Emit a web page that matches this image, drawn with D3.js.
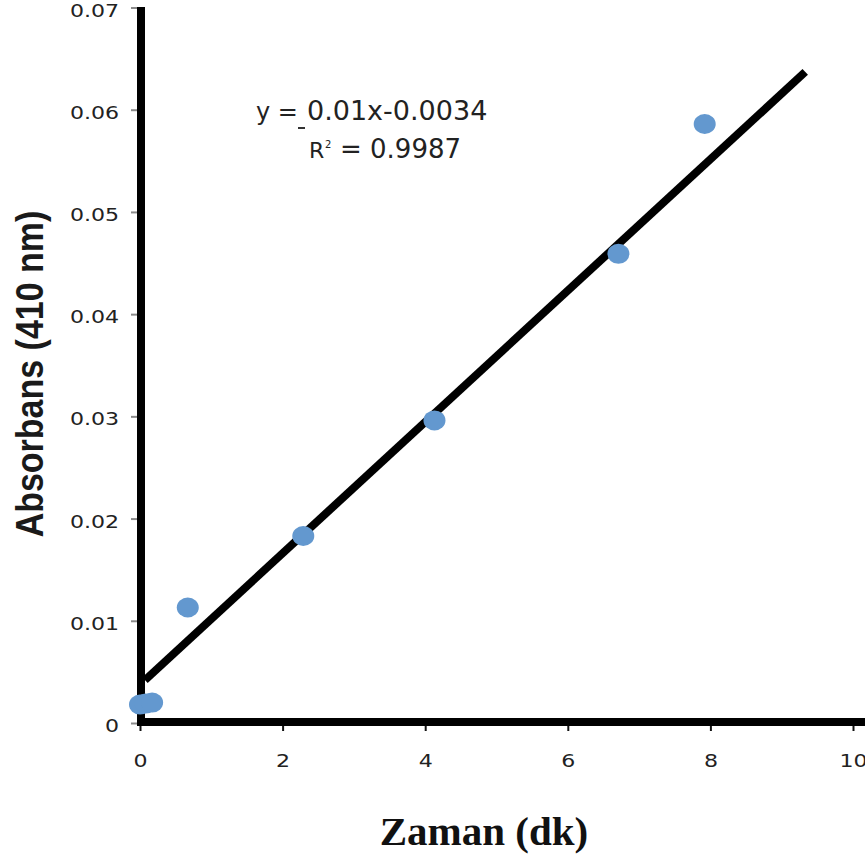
<!DOCTYPE html>
<html>
<head>
<meta charset="utf-8"/>
<script src="https://d3js.org/d3.v7.min.js"></script>
<style>
  body { margin: 0; background: #fff; }
  svg { display: block; }
</style>
</head>
<body>
<script>
// measured points (time in min, absorbance at 410 nm)
var timeVals = [0, 0.08, 0.17, 0.67, 2.29, 4.13, 6.71, 7.92];
var absVals  = [0.0018, 0.0019, 0.002, 0.0113, 0.0183, 0.0296, 0.0459, 0.0586];

// trend line end points as drawn
var trendX = [0.07, 9.33];
var trendY = [0.0042, 0.0637];

var xTicks = [0, 2, 4, 6, 8, 10];
var xTickLabels = ["0", "2", "4", "6", "8", "10"];
var yTicks = [0, 0.01, 0.02, 0.03, 0.04, 0.05, 0.06, 0.07];
var yTickLabels = ["0", "0.01", "0.02", "0.03", "0.04", "0.05", "0.06", "0.07"];

var width = 865, height = 861;
var dotColor = "#6398cf";

var svg = d3.select("body").append("svg")
    .attr("width", width)
    .attr("height", height);

var x = d3.scaleLinear().domain([0, 10]).range([140, 853]);
var y = d3.scaleLinear().domain([0, 0.07]).range([723, 7.5]);

// y axis ticks + labels
var yAxis = svg.append("g")
    .attr("transform", "translate(137,0)")
    .call(d3.axisLeft(y).tickValues(yTicks)
        .tickFormat(function(d, i) { return yTickLabels[i]; })
        .tickSize(6));
yAxis.select(".domain").remove();
yAxis.selectAll(".tick line").attr("stroke", "#8a8a8a").attr("stroke-width", 2);
yAxis.selectAll(".tick text")
    .attr("x", -13.8)
    .attr("dy", "0.5em")
    .attr("transform", "scale(1.3,1)")
    .attr("fill", "#222")
    .style("font-family", "DejaVu Sans")
    .style("font-size", "17px");

// x axis ticks + labels
var xAxis = svg.append("g")
    .attr("transform", "translate(0,726)")
    .call(d3.axisBottom(x).tickValues(xTicks)
        .tickFormat(function(d, i) { return xTickLabels[i]; })
        .tickSize(5).tickPadding(24));
xAxis.select(".domain").remove();
xAxis.selectAll(".tick line").attr("stroke", "#111").attr("stroke-width", 2);
xAxis.selectAll(".tick text")
    .attr("transform", "scale(1.3,1)")
    .attr("fill", "#222")
    .style("font-family", "DejaVu Sans")
    .style("font-size", "17px");

// thick axis lines
svg.append("line")
    .attr("x1", x(0) + 1).attr("x2", x(0) + 1)
    .attr("y1", y(0.07) - 0.5).attr("y2", y(0) + 3)
    .attr("stroke", "#000").attr("stroke-width", 8);
svg.append("line")
    .attr("x1", x(0) - 3).attr("x2", width)
    .attr("y1", y(0) - 1).attr("y2", y(0) - 1)
    .attr("stroke", "#000").attr("stroke-width", 8);

// trend line
svg.append("line")
    .attr("x1", x(trendX[0])).attr("y1", y(trendY[0]))
    .attr("x2", x(trendX[1])).attr("y2", y(trendY[1]))
    .attr("stroke", "#000").attr("stroke-width", 8);

// points
svg.append("g").selectAll("ellipse")
    .data(timeVals)
    .enter()
    .append("ellipse")
    .attr("cx", function(d) { return x(d); })
    .attr("cy", function(d, i) { return y(absVals[i]); })
    .attr("rx", 11)
    .attr("ry", 10)
    .attr("fill", dotColor);

// equation
var eq = svg.append("g")
    .attr("fill", "#222")
    .style("font-family", "DejaVu Sans");
eq.append("text").attr("x", 256).attr("y", 120).style("font-size", "24px").text("y =");
eq.append("line").attr("x1", 298).attr("x2", 305).attr("y1", 128).attr("y2", 128)
    .attr("stroke", "#333").attr("stroke-width", 2);
eq.append("text").attr("x", 307).attr("y", 120).style("font-size", "27px").text("0.01x-0.0034");
eq.append("text").attr("x", 309).attr("y", 158).style("font-size", "22px").text("R");
eq.append("text").attr("x", 325).attr("y", 148).style("font-size", "10px").text("2");
eq.append("text").attr("x", 340).attr("y", 158).style("font-size", "26px").text("= 0.9987");

// axis titles
svg.append("text")
    .attr("x", 484).attr("y", 845)
    .attr("text-anchor", "middle")
    .attr("fill", "#111")
    .style("font-family", "Liberation Serif")
    .style("font-weight", "bold")
    .style("font-size", "41px")
    .text("Zaman (dk)");

svg.append("text")
    .attr("transform", "translate(43,374) scale(1.15,1) rotate(-90)")
    .attr("text-anchor", "middle")
    .attr("fill", "#1a1a1a")
    .style("font-family", "Liberation Sans")
    .style("font-weight", "bold")
    .style("font-size", "34px")
    .text("Absorbans (410 nm)");
</script>
</body>
</html>
